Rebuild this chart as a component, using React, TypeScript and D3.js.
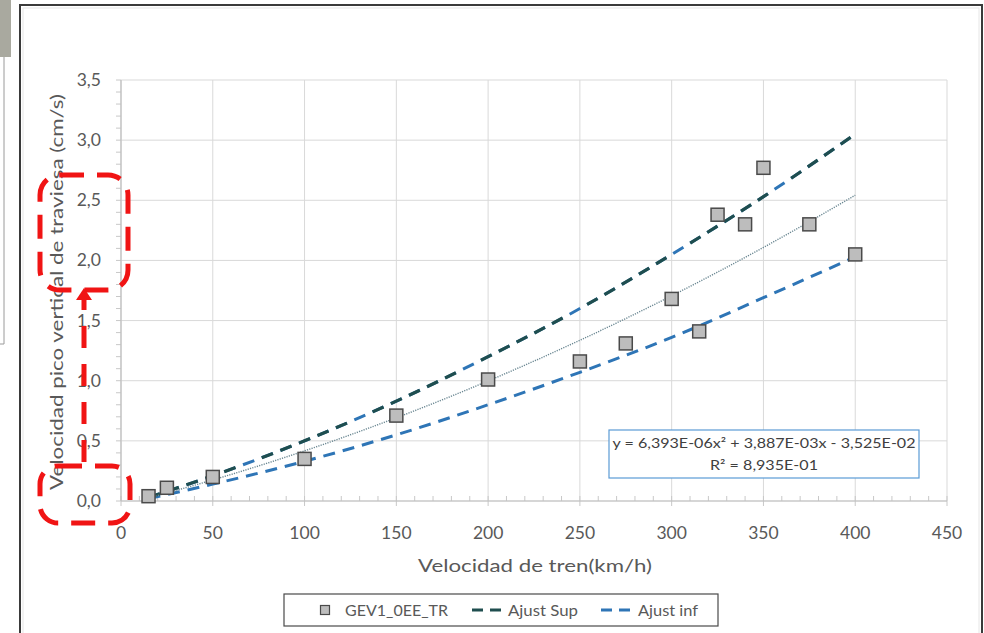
import React from 'react';
import * as d3 from 'd3';

const speeds = [15, 25, 50, 100, 150, 200, 250, 275, 300, 315, 325, 340, 350, 375, 400];
const peakVel = [0.04, 0.11, 0.2, 0.35, 0.71, 1.01, 1.16, 1.31, 1.68, 1.41, 2.38, 2.3, 2.77, 2.3, 2.05];
const fitX = [15, 50, 100, 150, 200, 250, 300, 350, 400];
const trendY = [0.025, 0.175, 0.417, 0.692, 0.998, 1.336, 1.706, 2.108, 2.542];
const supY = [0.03, 0.21, 0.5, 0.83, 1.2, 1.6, 2.05, 2.53, 3.05];
const infY = [0.02, 0.14, 0.33, 0.55, 0.8, 1.07, 1.36, 1.69, 2.03];
const xTicks = [0, 50, 100, 150, 200, 250, 300, 350, 400, 450];
const yTicks = [0, 0.5, 1, 1.5, 2, 2.5, 3, 3.5];
const xTitle = 'Velocidad de tren(km/h)';
const yTitle = 'Velocidad pico vertical de traviesa (cm/s)';
const seriesNames = ['GEV1_0EE_TR', 'Ajust Sup', 'Ajust inf'];
const eqLine1 = 'y = 6,393E-06x² + 3,887E-03x - 3,525E-02';
const eqLine2 = 'R² = 8,935E-01';

const FONT = 'Lato, "Open Sans", sans-serif';
const TXT = '#595959';
const SUP_COLOR = '#1f4e4f';
const INF_COLOR = '#2e75b6';

export default function App() {
  const x = d3.scaleLinear().domain([0, 450]).range([121, 947]);
  const y = d3.scaleLinear().domain([0, 3.5]).range([501, 80]);
  const line = d3
    .line<number>()
    .x((_, i) => x(fitX[i]))
    .y((d) => y(d))
    .curve(d3.curveMonotoneX);
  const fmt = (v: number) => v.toFixed(1).replace('.', ',');
  const xMinor = d3.range(0, 451, 10);
  const yMinor = d3.range(0, 3.501, 0.1);

  return (
    <svg
      width={984}
      height={633}
      style={{ position: 'fixed', left: 0, top: 0, background: '#fff' }}
      fontFamily={FONT}
    >
      <rect x={0} y={0} width={984} height={633} fill="#fff" />
      {/* left page fragments */}
      <rect x={0} y={0} width={11} height={57} fill="#a9a99f" />
      <line x1={4} y1={57} x2={4} y2={344} stroke="#9a9a9a" strokeWidth={1} />
      <line x1={0} y1={344} x2={4} y2={344} stroke="#9a9a9a" strokeWidth={1} />
      {/* chart frame */}
      <rect x={20} y={5} width={962} height={700} fill="#fff" stroke="#3a3a3a" strokeWidth={2} />
      <rect x={23} y={8} width={956} height={700} fill="none" stroke="#e6e6e6" strokeWidth={1} />

      {/* gridlines */}
      {xTicks.map((t) => (
        <line key={'gx' + t} x1={x(t)} x2={x(t)} y1={y(3.5)} y2={y(0)} stroke="#d9d9d9" strokeWidth={1} />
      ))}
      {yTicks.map((t) => (
        <line key={'gy' + t} x1={x(0)} x2={x(450)} y1={y(t)} y2={y(t)} stroke="#d9d9d9" strokeWidth={1} />
      ))}
      {/* minor ticks */}
      {xMinor.map((t) => (
        <line key={'mx' + t} x1={x(t)} x2={x(t)} y1={y(0) - 5} y2={y(0) + (t % 50 === 0 ? 5 : 0)} stroke="#c8c8c8" strokeWidth={1} />
      ))}
      {yMinor.map((t, i) => (
        <line key={'my' + i} x1={x(0) - 5} x2={x(0) + 0} y1={y(t)} y2={y(t)} stroke="#c8c8c8" strokeWidth={1} />
      ))}
      {/* axes lines */}
      <line x1={x(0)} x2={x(450)} y1={y(0)} y2={y(0)} stroke="#bfbfbf" strokeWidth={1.2} />
      <line x1={x(0)} x2={x(0)} y1={y(0)} y2={y(3.5)} stroke="#bfbfbf" strokeWidth={1.2} />

      {/* tick labels */}
      {yTicks.map((t) => (
        <text key={'ty' + t} x={101} y={y(t) + 6} textAnchor="end" fontSize={17.5} fill={TXT}>
          {fmt(t)}
        </text>
      ))}
      {xTicks.map((t) => (
        <text key={'tx' + t} x={x(t)} y={539} textAnchor="middle" fontSize={17.5} fill={TXT}>
          {t}
        </text>
      ))}

      {/* axis titles */}
      <text x={535} y={572} textAnchor="middle" fontSize={18} fill={TXT} textLength={234} lengthAdjust="spacingAndGlyphs">
        {xTitle}
      </text>
      <text
        transform="translate(63,292) rotate(-90)"
        textAnchor="middle"
        fontSize={18}
        fill={TXT}
        textLength={396}
        lengthAdjust="spacingAndGlyphs"
      >
        {yTitle}
      </text>

      {/* fit curves */}
      <path d={line(infY) || ''} fill="none" stroke={INF_COLOR} strokeWidth={3} strokeDasharray="12 8" />
      <path d={line(supY) || ''} fill="none" stroke={INF_COLOR} strokeWidth={3} strokeDasharray="12 8" />
      <path d={line(supY) || ''} fill="none" stroke={SUP_COLOR} strokeWidth={3.2} strokeDasharray="12 8 12 8 12 8 12 8 12 28" />
      <path d={line(trendY) || ''} fill="none" stroke="#6a8792" strokeWidth={1.4} strokeDasharray="1.2 1.2" />

      {/* data points */}
      {speeds.map((s, i) => (
        <rect
          key={'p' + i}
          x={x(s) - 6.5}
          y={y(peakVel[i]) - 6.5}
          width={13}
          height={13}
          fill="#bdbdbd"
          stroke="#4a4a4a"
          strokeWidth={1.5}
        />
      ))}

      {/* equation box */}
      <rect x={609} y={430} width={310} height={48} fill="#fff" stroke="#5b9bd5" strokeWidth={1.2} />
      <text x={764} y={448} textAnchor="middle" fontSize={14} fill="#404040" textLength={303} lengthAdjust="spacingAndGlyphs">
        {eqLine1}
      </text>
      <text x={764} y={470} textAnchor="middle" fontSize={14} fill="#404040" textLength={108} lengthAdjust="spacingAndGlyphs">
        {eqLine2}
      </text>

      {/* legend */}
      <rect x={284} y={594} width={434} height={32} fill="#fff" stroke="#4a4a4a" strokeWidth={1.2} />
      <rect x={320.5} y={605.5} width={9} height={9} fill="#bdbdbd" stroke="#4a4a4a" strokeWidth={1.2} />
      <text x={345} y={616} fontSize={15} fill={TXT} textLength={103} lengthAdjust="spacingAndGlyphs">
        {seriesNames[0]}
      </text>
      <line x1={472} x2={501} y1={610} y2={610} stroke={SUP_COLOR} strokeWidth={3} strokeDasharray="11 7" />
      <text x={508} y={616} fontSize={15} fill={TXT} textLength={70} lengthAdjust="spacingAndGlyphs">
        {seriesNames[1]}
      </text>
      <line x1={601} x2={630} y1={610} y2={610} stroke={INF_COLOR} strokeWidth={3} strokeDasharray="11 7" />
      <text x={638} y={616} fontSize={15} fill={TXT} textLength={60} lengthAdjust="spacingAndGlyphs">
        {seriesNames[2]}
      </text>

      {/* red annotations */}
      <g fill="none" stroke="#f01414" strokeWidth={5}>
        <rect x={40} y={175} width={88} height={115} rx={20} strokeDasharray="24 13" />
        <rect x={40} y={466} width={90} height={57} rx={18} strokeDasharray="24 13" />
        <line x1={84} y1={462} x2={84} y2={298} strokeDasharray="22 16" />
      </g>
      <path d="M76,300 L84,288 L92,300 Z" fill="#f01414" />
    </svg>
  );
}
